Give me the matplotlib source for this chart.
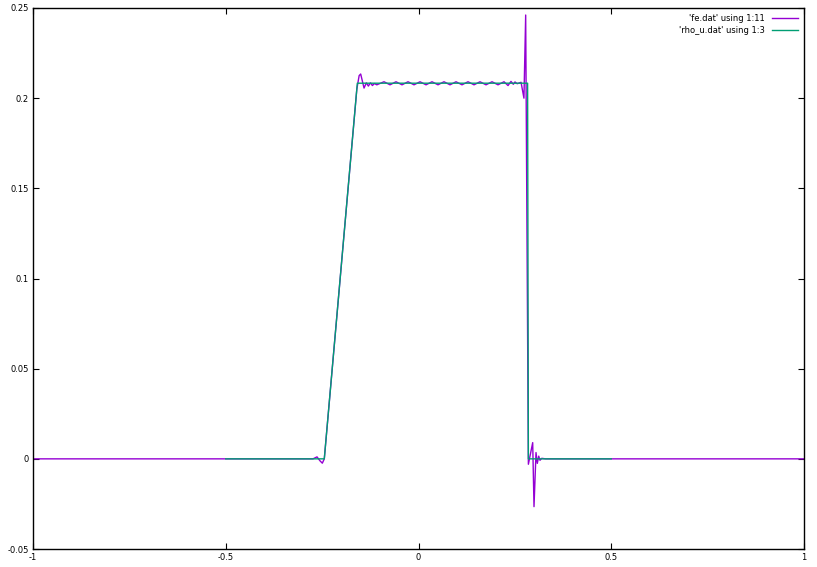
import matplotlib
matplotlib.use('Agg')
import matplotlib.pyplot as plt

# fe.dat column 11 (purple, with ringing)
fe_x = [-1.0, -0.2737, -0.2633, -0.2555, -0.2495, -0.2444,
        -0.1600, -0.1540, -0.1500, -0.1413, -0.1353, -0.1300, -0.1248, -0.1196, -0.1144, -0.1082,
        -0.0895, -0.0739, -0.0584, -0.0428, -0.0272, -0.0117, 0.0039, 0.0195, 0.0350, 0.0506,
        0.0661, 0.0817, 0.0973, 0.1128, 0.1284, 0.1440, 0.1595, 0.1751, 0.1907, 0.2062, 0.2218,
        0.2322, 0.2399, 0.2459, 0.2503, 0.2560, 0.2660, 0.2735, 0.2780, 0.2850, 0.2962, 0.2996,
        0.3048, 0.3082, 0.3118, 0.3152, 0.3196, 0.3300, 1.0]
fe_y = [0.0, 0.0, 0.0011, -0.0011, -0.0024, 0.0,
        0.2050, 0.2125, 0.2134, 0.2056, 0.2085, 0.2067, 0.2085, 0.2070, 0.2081, 0.2074,
        0.2091, 0.2074, 0.2091, 0.2074, 0.2091, 0.2074, 0.2091, 0.2074, 0.2091, 0.2074,
        0.2091, 0.2074, 0.2091, 0.2074, 0.2091, 0.2074, 0.2091, 0.2074, 0.2091, 0.2074, 0.2091,
        0.2070, 0.2093, 0.2077, 0.2090, 0.2080, 0.2088, 0.2000, 0.2461, -0.0030, 0.0090, -0.0265,
        0.0035, -0.0025, 0.0015, -0.0008, 0.0003, 0.0, 0.0]

# rho_u.dat column 3 (teal), defined on [-0.5, 0.5]
rho_x = [-0.5, -0.2444, -0.1587, 0.2830, 0.2850, 0.5]
rho_y = [0.0, 0.0, 0.2083, 0.2083, 0.0, 0.0]

xticks = [-1, -0.5, 0, 0.5, 1]
yticks = [-0.05, 0, 0.05, 0.1, 0.15, 0.2, 0.25]

fig = plt.figure(figsize=(8.17, 5.67), dpi=100)
ax = fig.add_axes([0.0404, 0.0317, 0.9437, 0.9542])

ax.plot(fe_x, fe_y, color='#9400D3', lw=1.0, label="'fe.dat' using 1:11")
ax.plot(rho_x, rho_y, color='#009E73', lw=1.0, label="'rho_u.dat' using 1:3")

ax.set_xlim(-1, 1)
ax.set_ylim(-0.05, 0.25)
ax.set_xticks(xticks)
ax.set_xticklabels(['-1', '-0.5', '0', '0.5', '1'])
ax.set_yticks(yticks)
ax.set_yticklabels(['-0.05', '0', '0.05', '0.1', '0.15', '0.2', '0.25'])
ax.tick_params(direction='in', top=True, right=True, length=4, width=0.8,
               labelsize=6, pad=3)
for s in ax.spines.values():
    s.set_linewidth(1.0)

ax.legend(loc='upper right', markerfirst=False, frameon=False, fontsize=6,
          handlelength=3.2, handletextpad=0.8, borderaxespad=0.3, labelspacing=0.4)

fig.savefig('out.png', dpi=100)
